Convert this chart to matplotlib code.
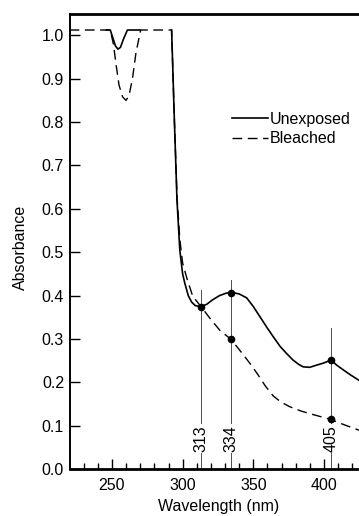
import numpy as np
import matplotlib
matplotlib.use('Agg')
import matplotlib.pyplot as plt
from matplotlib import ticker

plt.rcParams['font.family'] = ['Liberation Sans', 'DejaVu Sans']

# unexposed film (solid); NaN where the curve sits under the saturated (dashed) top line
unexposed_wl = [246, 248.8, 250.5, 252.5, 254.2, 256, 258, 260.9, 270, np.nan,
                292.2, 294, 296, 298, 300, 301.6, 304, 306.4, 309, 313, 317, 321, 326, 331,
                335.6, 340, 345.3, 350, 355, 360, 364, 369, 373.5, 378, 382, 385.3, 390,
                394.8, 400, 405, 409, 413.7, 419, 424.8]
unexposed_abs = [1.012, 1.012, 0.995, 0.975, 0.968, 0.972, 0.99, 1.012, 1.012, np.nan,
                 1.012, 0.82, 0.62, 0.505, 0.45, 0.428, 0.40, 0.385, 0.377, 0.375, 0.38, 0.39, 0.40, 0.406,
                 0.407, 0.404, 0.395, 0.375, 0.35, 0.325, 0.306, 0.283, 0.267, 0.252, 0.242, 0.236, 0.235,
                 0.24, 0.245, 0.252, 0.24, 0.229, 0.217, 0.205]

# bleached film (dashed)
bleached_wl = [220, 248.8, 251, 253, 255, 257.5, 259.9, 262, 264.5, 267, 270.3, 292.2,
               294, 296, 298, 300, 303, 307, 310, 313, 320, 326.4, 334, 339, 344.1, 349,
               353.5, 358.5, 364.1, 369.5, 375.9, 384, 392.4, 404.7, 414, 424.8]
bleached_abs = [1.012, 1.012, 0.98, 0.93, 0.885, 0.858, 0.85, 0.86, 0.90, 0.96, 1.012, 1.012,
                0.82, 0.63, 0.53, 0.475, 0.44, 0.40, 0.387, 0.375, 0.345, 0.32, 0.30, 0.28, 0.259, 0.238,
                0.217, 0.192, 0.169, 0.155, 0.144, 0.134, 0.126, 0.115, 0.103, 0.09]

# marked wavelengths (nm), top of their guide lines, and the marked points
mark_wl = [313, 334, 405]
mark_top = [0.412, 0.435, 0.325]
point_wl = [313, 334, 334, 405, 405]
point_abs = [0.375, 0.407, 0.30, 0.252, 0.115]

fig = plt.figure(figsize=(3.59, 5.16), dpi=100)
ax = fig.add_axes([0.195, 0.0905, 0.805, 0.8833])

for wl, top in zip(mark_wl, mark_top):
    ax.plot([wl, wl], [0, top], color='0.3', lw=0.7, zorder=1)
    ax.text(wl, 0.071, str(wl), rotation=90, ha='center', va='center', fontsize=11.5,
            bbox=dict(fc='white', ec='none', pad=0.6), zorder=2)

l1, = ax.plot(unexposed_wl, unexposed_abs, color='black', lw=1.2, zorder=3)
l2, = ax.plot(bleached_wl, bleached_abs, color='black', lw=1.0, dashes=(7, 4), zorder=3)
ax.plot(point_wl, point_abs, 'o', color='black', ms=4.5, zorder=4)

ax.set_xlim(220.3, 424.8)
ax.set_ylim(0, 1.05)
ax.xaxis.set_major_locator(ticker.MultipleLocator(50))
ax.xaxis.set_minor_locator(ticker.MultipleLocator(10))
ax.yaxis.set_major_locator(ticker.MultipleLocator(0.1))
ax.yaxis.set_major_formatter(ticker.FormatStrFormatter('%.1f'))
ax.tick_params(which='both', direction='in', labelsize=11.5, width=1.0)
ax.tick_params(axis='x', which='major', length=7, pad=6.5)
ax.tick_params(axis='x', which='minor', length=4)
ax.tick_params(axis='y', length=7, pad=4.3)
ax.tick_params(top=False, right=False)

ax.spines['right'].set_visible(False)
ax.spines['top'].set_linewidth(2.0)
ax.spines['bottom'].set_linewidth(2.0)
ax.spines['left'].set_linewidth(1.4)

ax.set_ylabel('Absorbance', fontsize=11.5)
ax.yaxis.set_label_coords(-0.145, 0.486)
ax.set_xlabel('Wavelength (nm)', fontsize=11.5)
ax.xaxis.set_label_coords(0.513, -0.065)

ax.legend([l1, l2], ['Unexposed', 'Bleached'], frameon=False, loc='upper left',
          bbox_to_anchor=(0.56, 0.785), handlelength=2.25, handletextpad=0.15,
          labelspacing=0.3, borderpad=0, borderaxespad=0, fontsize=11.5)

fig.savefig('out.png', dpi=100)
